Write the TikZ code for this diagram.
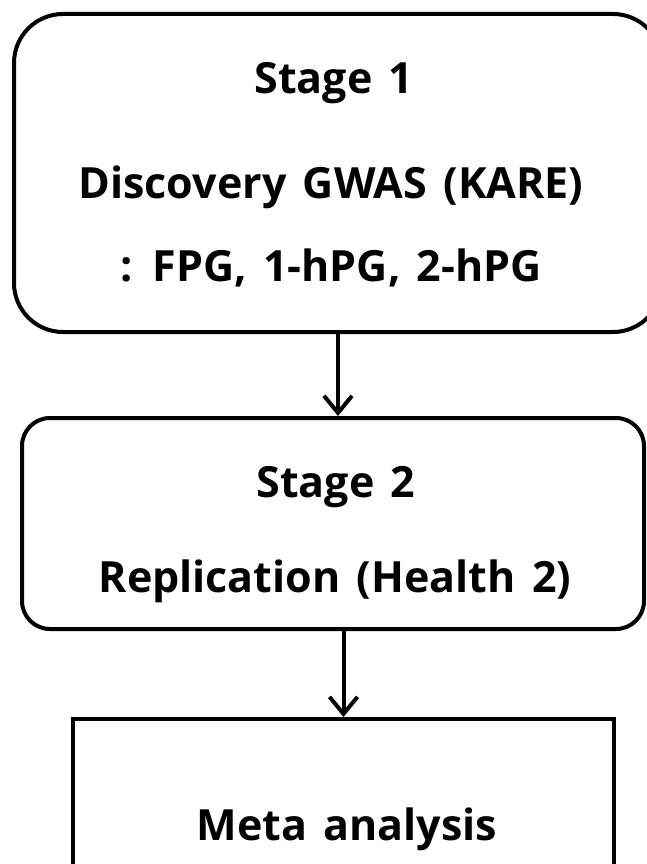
\documentclass[tikz,border=0pt]{standalone}
\usepackage{fontspec}
\setmainfont{Open Sans}
\usetikzlibrary{arrows.meta}
\newcommand\mylblfont{\fontsize{43}{48}\selectfont\bfseries\spaceskip=0.38em\relax}
\begin{document}
\begin{tikzpicture}[x=1pt,y=-1pt,
  boxline/.style={draw=black,line width=4pt,inner sep=0pt},
  lbl/.style={font=\mylblfont,anchor=base,inner sep=0pt},
  arr/.style={line width=4pt,-{Straight Barb[length=17pt,width=28pt,line width=4pt]}}]
\useasboundingbox (0,0) rectangle (647,864);
\clip (0,0) rectangle (647,864);
\node[boxline,rounded corners=49pt,minimum width=648pt,minimum height=318pt] (b1) at (338,173) {};
\node[boxline,rounded corners=28pt,minimum width=622pt,minimum height=211pt] (b2) at (333,523.5) {};
\node[boxline,minimum width=541pt,minimum height=220pt] (b3) at (343.5,829) {};
\node[lbl] (t1) at (334,94) {Stage 1};
\node[lbl] (t2) at (331,198) {Discovery GWAS (KARE)};
\node[lbl] (t3) at (331,281) {: FPG, 1-hPG, 2-hPG};
\node[lbl] (t4) at (336,497) {Stage 2};
\node[lbl] (t5) at (335,592) {Replication (Health 2)};
\node[lbl] (t6) at (347,840) {Meta analysis};
\draw[arr] (b1.south) -- (b1.south |- b2.north);
\draw[arr] (b3.north |- b2.south) -- (b3.north);
\end{tikzpicture}
\end{document}
